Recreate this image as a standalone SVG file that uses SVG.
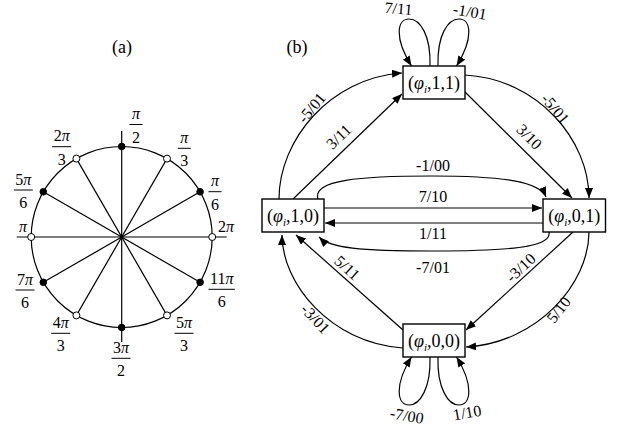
<svg xmlns="http://www.w3.org/2000/svg" width="623" height="428" viewBox="0 0 623 428" font-family="'Liberation Serif','Times New Roman',serif">
<style>
text{font-family:"Liberation Serif","Times New Roman",serif;fill:#000}
.t{font-size:18px;text-anchor:middle}
.f{font-size:16px;text-anchor:middle}
.lb{font-size:16px;text-anchor:middle}
.it{font-style:italic}
.ln{stroke:#000;stroke-width:1.2;fill:none}
.bar{stroke:#000;stroke-width:1}
.box{fill:#fff;stroke:#000;stroke-width:1.4}
.dk{fill:#000;stroke:#000;stroke-width:1}
.wh{fill:#fff;stroke:#000;stroke-width:1}
.e{stroke:#000;stroke-width:1.2;fill:none;marker-end:url(#ah)}
</style>
<defs>
<marker id="ah" viewBox="0 0 10 8" refX="10" refY="4" markerWidth="10" markerHeight="8" orient="auto" markerUnits="userSpaceOnUse">
<path d="M0,0 L10,4 L0,8 Z" fill="#000"/>
</marker>
</defs>

<text class="t" x="122" y="53">(a)</text>
<text class="t" x="297" y="53">(b)</text>

<g id="circle">
<circle class="ln" cx="121.7" cy="237" r="90.5"/>
<line class="ln" x1="121.7" y1="131" x2="121.7" y2="342"/>
<line class="ln" x1="16.7" y1="237" x2="226.7" y2="237"/>
<line class="ln" x1="167" y1="158.6" x2="76.4" y2="315.4"/>
<line class="ln" x1="76.4" y1="158.6" x2="167" y2="315.4"/>
<line class="ln" x1="200.1" y1="191.8" x2="43.3" y2="282.3"/>
<line class="ln" x1="43.3" y1="191.8" x2="200.1" y2="282.3"/>
<circle class="dk" cx="121.7" cy="146.5" r="3.3"/>
<circle class="dk" cx="121.7" cy="327.5" r="3.3"/>
<circle class="dk" cx="200.1" cy="191.8" r="3.3"/>
<circle class="dk" cx="43.3" cy="191.8" r="3.3"/>
<circle class="dk" cx="43.3" cy="282.3" r="3.3"/>
<circle class="dk" cx="200.1" cy="282.3" r="3.3"/>
<circle class="wh" cx="167" cy="158.6" r="3.5"/>
<circle class="wh" cx="76.4" cy="158.6" r="3.5"/>
<circle class="wh" cx="76.4" cy="315.4" r="3.5"/>
<circle class="wh" cx="167" cy="315.4" r="3.5"/>
<circle class="wh" cx="31.2" cy="237" r="3.5"/>
<circle class="wh" cx="212.2" cy="237" r="3.5"/>
</g>

<g id="angle-labels">
<g id="l-pi2"><text class="f it" x="136" y="119">π</text><line class="bar" x1="129.5" y1="124.5" x2="142.5" y2="124.5"/><text class="f" x="136" y="142.5">2</text></g>
<g id="l-2pi3"><text class="f" x="61.7" y="141">2<tspan class="it">π</tspan></text><line class="bar" x1="52.2" y1="146.7" x2="71.2" y2="146.7"/><text class="f" x="61.7" y="164.5">3</text></g>
<g id="l-pi3"><text class="f it" x="184.3" y="142.5">π</text><line class="bar" x1="177.8" y1="148.3" x2="190.8" y2="148.3"/><text class="f" x="184.3" y="166">3</text></g>
<g id="l-5pi6"><text class="f" x="23.3" y="184.5">5<tspan class="it">π</tspan></text><line class="bar" x1="13.8" y1="190" x2="32.8" y2="190"/><text class="f" x="23.3" y="208">6</text></g>
<g id="l-pi6"><text class="f it" x="215" y="186">π</text><line class="bar" x1="208.5" y1="191.7" x2="221.5" y2="191.7"/><text class="f" x="215" y="209.5">6</text></g>
<g id="l-pi"><text class="f it" x="23" y="232">π</text></g>
<g id="l-2pi"><text class="f" x="226" y="232">2<tspan class="it">π</tspan></text></g>
<g id="l-7pi6"><text class="f" x="25" y="284.5">7<tspan class="it">π</tspan></text><line class="bar" x1="15.5" y1="290" x2="34.5" y2="290"/><text class="f" x="25" y="308">6</text></g>
<g id="l-11pi6"><text class="f" x="221.7" y="284">11<tspan class="it">π</tspan></text><line class="bar" x1="208.5" y1="289.3" x2="234.9" y2="289.3"/><text class="f" x="221.7" y="307.3">6</text></g>
<g id="l-4pi3"><text class="f" x="60.7" y="328">4<tspan class="it">π</tspan></text><line class="bar" x1="51.2" y1="333.3" x2="70.2" y2="333.3"/><text class="f" x="60.7" y="351.3">3</text></g>
<g id="l-5pi3"><text class="f" x="184" y="328">5<tspan class="it">π</tspan></text><line class="bar" x1="174.5" y1="333.3" x2="193.5" y2="333.3"/><text class="f" x="184" y="351.3">3</text></g>
<g id="l-3pi2"><text class="f" x="121" y="353">3<tspan class="it">π</tspan></text><line class="bar" x1="111.5" y1="358.3" x2="130.5" y2="358.3"/><text class="f" x="121" y="376.3">2</text></g>
</g>

<g id="connectors">
<path class="e" d="M430,66 C431,35 420,19 409,19 C397,19 394,38 411.5,66"/>
<path class="e" d="M438,66 C437,35 448,19 459,19 C471,19 474,38 456.5,66"/>
<path class="e" d="M430,357 C431,388 420,405 409,405 C397,405 394,385 411.5,357"/>
<path class="e" d="M438,357 C437,388 448,405 459,405 C471,405 474,385 456.5,357"/>
<path class="e" d="M279,199 C279,140 330,78 402,73"/>
<path class="e" d="M293,199 L402,94"/>
<path class="e" d="M465,75 C538,79 589,140 589,198"/>
<path class="e" d="M465,92 L572,198"/>
<path class="e" d="M318,199 C312,180 360,176 432,176 C505,176 540,182 546,197"/>
<path class="e" d="M324,208 L542,208"/>
<path class="e" d="M543,223 L325,223"/>
<path class="e" d="M549,232 C552,248 505,251 432,251 C360,251 330,248 319,237"/>
<path class="e" d="M403,330 L296,235"/>
<path class="e" d="M403,348 C330,343 282,283 282,235"/>
<path class="e" d="M573,232 L466,330"/>
<path class="e" d="M589,232 C589,283 538,343 466,347"/>
</g>

<g id="edge-labels">
<text class="lb" transform="translate(398,14) rotate(5)">7/11</text>
<text class="lb" transform="translate(469,17) rotate(10)">-1/01</text>
<text class="lb" transform="translate(406,421) rotate(10)">-7/00</text>
<text class="lb" transform="translate(468,418) rotate(-10)">1/10</text>
<text class="lb" transform="translate(312,108) rotate(-50) translate(0,5)">-5/01</text>
<text class="lb" transform="translate(339,137) rotate(-44) translate(0,5)">3/11</text>
<text class="lb" transform="translate(555,109) rotate(50) translate(0,5)">-5/01</text>
<text class="lb" transform="translate(529,137) rotate(45) translate(0,5)">3/10</text>
<text class="lb" x="433" y="171">-1/00</text>
<text class="lb" x="433" y="202">7/10</text>
<text class="lb" x="433" y="239">1/11</text>
<text class="lb" x="433" y="273">-7/01</text>
<text class="lb" transform="translate(347,268) rotate(42) translate(0,5)">5/11</text>
<text class="lb" transform="translate(315,319) rotate(47) translate(0,5)">-3/01</text>
<text class="lb" transform="translate(521,268) rotate(-43) translate(0,5)">-3/10</text>
<text class="lb" transform="translate(559,310) rotate(-52) translate(0,5)">5/10</text>
</g>

<g id="node-11"><rect class="box" x="403" y="66" width="62" height="33"/><text class="t" x="434" y="88.5">(<tspan class="it">φ</tspan><tspan class="it" font-size="11" dy="4">i</tspan><tspan dy="-4">,1,1)</tspan></text></g>
<g id="node-10"><rect class="box" x="262" y="199" width="62" height="33"/><text class="t" x="293" y="221.5">(<tspan class="it">φ</tspan><tspan class="it" font-size="11" dy="4">i</tspan><tspan dy="-4">,1,0)</tspan></text></g>
<g id="node-01"><rect class="box" x="543" y="199" width="62.5" height="33"/><text class="t" x="574.3" y="221.5">(<tspan class="it">φ</tspan><tspan class="it" font-size="11" dy="4">i</tspan><tspan dy="-4">,0,1)</tspan></text></g>
<g id="node-00"><rect class="box" x="403" y="324" width="62" height="33"/><text class="t" x="434" y="346.5">(<tspan class="it">φ</tspan><tspan class="it" font-size="11" dy="4">i</tspan><tspan dy="-4">,0,0)</tspan></text></g>
</svg>
